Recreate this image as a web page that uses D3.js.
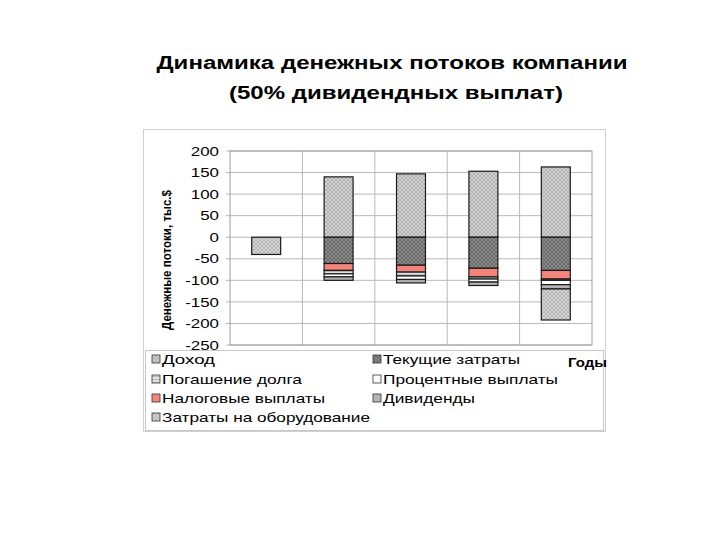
<!DOCTYPE html>
<html><head><meta charset="utf-8">
<script src="https://cdn.jsdelivr.net/npm/d3@7"></script>
<style>body{margin:0;background:#fff}svg{display:block}</style>
</head><body>
<script>
// ---- data ----
const years = ["0", "1", "2", "3", "4"];
const income      = [0, 140, 147, 153, 163];   // Доход
const currentCost = [0, -61, -65, -72, -77];   // Текущие затраты
const taxes       = [0, -16, -16, -20, -20];   // Налоговые выплаты
const debt        = [0, -8, -9, -5, -3];       // Погашение долга
const interest    = [0, -7, -8, -7, -10];      // Процентные выплаты
const dividends   = [0, -8, -8, -8, -10];      // Дивиденды
const equipment   = [-40, 0, 0, 0, -72];       // Затраты на оборудование
const yTicks = [200, 150, 100, 50, 0, -50, -100, -150, -200, -250];
const legendLabels = ["Доход", "Текущие затраты", "Погашение долга", "Процентные выплаты",
                      "Налоговые выплаты", "Дивиденды", "Затраты на оборудование"];

const W = 720, H = 540;
const svg = d3.select("body").append("svg").attr("width", W).attr("height", H);
const defs = svg.append("defs");
function hatch(id, base, line, size) {
  const p = defs.append("pattern").attr("id", id).attr("patternUnits", "userSpaceOnUse")
    .attr("width", size).attr("height", size);
  p.append("rect").attr("width", size).attr("height", size).attr("fill", base);
  p.append("path").attr("d", `M0,0L${size},${size}M${size},0L0,${size}`)
    .attr("stroke", line).attr("stroke-width", 0.8);
}
hatch("pInc", "#d2d2d2", "#a8a8a8", 4);
hatch("pCur", "#8c8c8c", "#5e5e5e", 4);
hatch("pEq", "#d6d6d6", "#acacac", 4);
const pd = defs.append("pattern").attr("id", "pDebt").attr("patternUnits", "userSpaceOnUse")
  .attr("width", 4).attr("height", 3);
pd.append("rect").attr("width", 4).attr("height", 3).attr("fill", "#e4e4e4");
pd.append("path").attr("d", "M0,1.5H4").attr("stroke", "#b0b0b0").attr("stroke-width", 0.8);

const keys = ["inc", "cur", "tax", "debt", "int", "div", "eq"];
const fills = { inc: "url(#pInc)", cur: "url(#pCur)", tax: "#f4847c", debt: "url(#pDebt)",
                int: "#ffffff", div: "#b4b4b4", eq: "url(#pEq)" };
const legendKeys = ["inc", "cur", "debt", "int", "tax", "div", "eq"];

const table = years.map((y, i) => ({ year: y, inc: income[i], cur: currentCost[i], tax: taxes[i],
  debt: debt[i], int: interest[i], div: dividends[i], eq: equipment[i] }));

// outer chart frame
svg.append("rect").attr("x", 143.5).attr("y", 129.5).attr("width", 462).attr("height", 302)
  .attr("fill", "none").attr("stroke", "#d0d0d0");

const x = d3.scaleBand().domain(years).range([230, 592]).paddingInner(0.6).paddingOuter(0.3);
const y = d3.scaleLinear().domain([-250, 200]).range([345, 151]);

// gridlines
const g = svg.append("g");
g.selectAll(".hg").data(yTicks).join("line")
  .attr("x1", 226).attr("x2", 592).attr("y1", d => y(d)).attr("y2", d => y(d))
  .attr("stroke", "#b8b8b8").attr("stroke-width", 1);
const bounds = d3.range(1, years.length).map(i => x.range()[0] + i * x.step());
g.selectAll(".vg").data(bounds).join("line")
  .attr("x1", d => d).attr("x2", d => d).attr("y1", 151).attr("y2", 345)
  .attr("stroke", "#b8b8b8");
g.append("rect").attr("x", 230).attr("y", 151).attr("width", 362).attr("height", 194)
  .attr("fill", "none").attr("stroke", "#a0a0a0");

// axis
const font = "Liberation Sans, Arial, sans-serif";
const ax = svg.append("g").attr("transform", "translate(230,0)")
  .call(d3.axisLeft(y).tickValues(yTicks).tickSize(0).tickPadding(11).tickFormat(d => String(d)));
ax.select(".domain").remove();
ax.selectAll("text").attr("font-family", font)
  .attr("font-size", 13).attr("fill", "#000")
  .each(function () { const l = this.getComputedTextLength(); d3.select(this).attr("textLength", l * 1.3).attr("lengthAdjust", "spacingAndGlyphs"); });

// bars
const series = d3.stack().keys(keys).offset(d3.stackOffsetDiverging)(table);
svg.append("g").selectAll("g").data(series).join("g")
  .attr("fill", d => fills[d.key])
  .selectAll("rect").data(d => d.filter(v => v[1] - v[0] !== 0)).join("rect")
  .attr("x", d => x(d.data.year)).attr("width", x.bandwidth())
  .attr("y", d => y(d[1])).attr("height", d => y(d[0]) - y(d[1]))
  .attr("stroke", "#1a1a1a").attr("stroke-width", 1.2);

// legend
svg.append("rect").attr("x", 145.5).attr("y", 350.5).attr("width", 458).attr("height", 80)
  .attr("fill", "#fff").attr("stroke", "#c8c8c8");
const legendWidths = [53, 137, 140, 175, 163, 92, 208];
legendKeys.forEach((k, i) => {
  const col = i % 2, row = Math.floor(i / 2);
  const lx = col === 0 ? 152 : 373;
  const ly = [359, 379, 398, 417][row];
  svg.append("rect").attr("x", lx).attr("y", ly - 4).attr("width", 8).attr("height", 8)
    .attr("fill", fills[k]).attr("stroke", "#333").attr("stroke-width", 0.8);
  svg.append("text").attr("x", lx + 10).attr("y", ly + 5).text(legendLabels[i])
    .attr("font-family", font).attr("font-size", 13)
    .attr("textLength", legendWidths[i]).attr("lengthAdjust", "spacingAndGlyphs");
});

// x axis title
svg.append("text").attr("x", 568).attr("y", 367).text("Годы")
  .attr("font-family", font).attr("font-size", 13).attr("font-weight", "bold")
  .attr("textLength", 39).attr("lengthAdjust", "spacingAndGlyphs");

// y axis title
svg.append("text").attr("transform", "translate(171,260) rotate(-90)").attr("text-anchor", "middle")
  .text("Денежные потоки, тыс.$").attr("font-family", font).attr("font-size", 12)
  .attr("font-weight", "bold").attr("textLength", 140).attr("lengthAdjust", "spacingAndGlyphs");

// title
svg.append("text").attr("x", 392).attr("y", 69).attr("text-anchor", "middle")
  .text("Динамика денежных потоков компании").attr("font-family", font)
  .attr("font-size", 18).attr("font-weight", "bold")
  .attr("textLength", 471).attr("lengthAdjust", "spacingAndGlyphs");
svg.append("text").attr("x", 396).attr("y", 99).attr("text-anchor", "middle")
  .text("(50% дивидендных выплат)").attr("font-family", font)
  .attr("font-size", 18).attr("font-weight", "bold")
  .attr("textLength", 334).attr("lengthAdjust", "spacingAndGlyphs");
</script>
</body></html>
